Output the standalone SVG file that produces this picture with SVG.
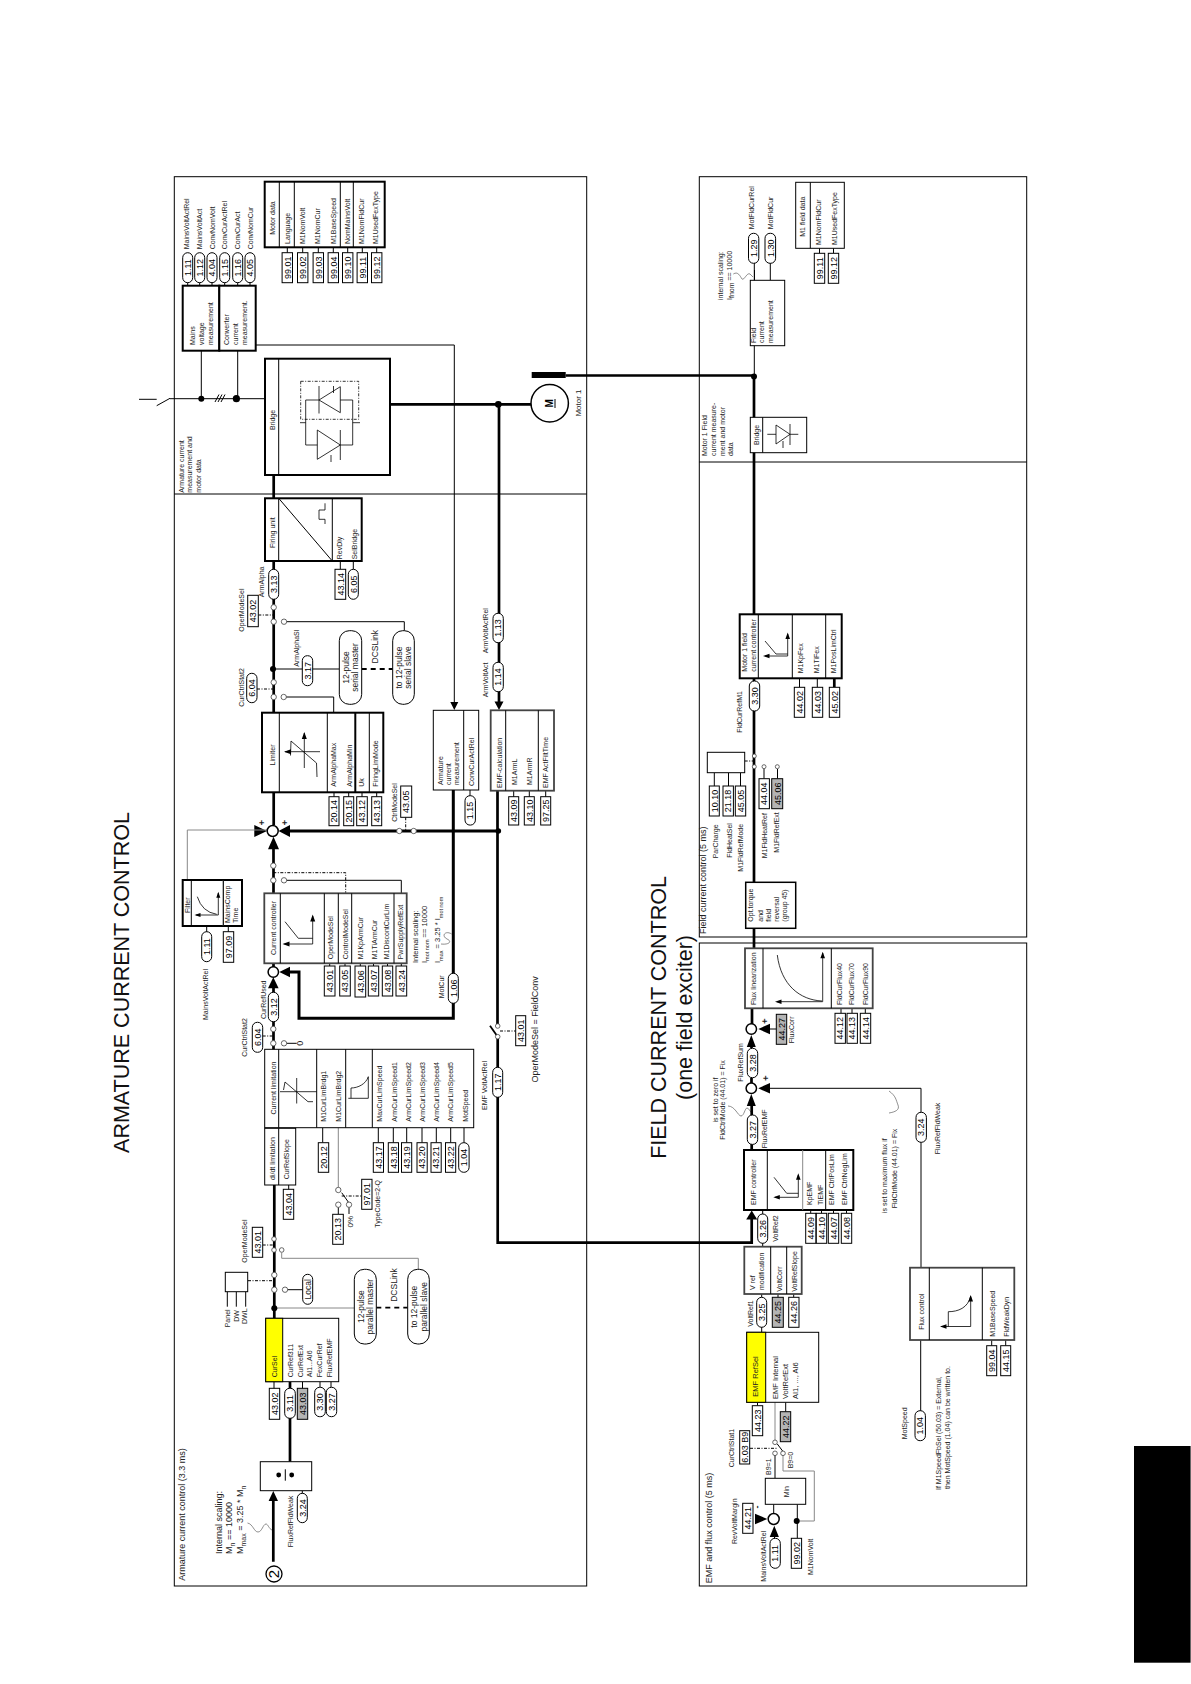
<svg xmlns="http://www.w3.org/2000/svg" width="1191" height="1684" viewBox="0 0 1191 1684">
<style>
text{font-family:"Liberation Sans",Arial,sans-serif;fill:#222}
.v{font-size:9px;text-anchor:middle;fill:#000}
.l{font-size:7px}
.m{font-size:7px;text-anchor:middle}
.s{font-size:9px}
.sm{font-size:8.5px;text-anchor:middle}
.T{font-size:21.5px;text-anchor:middle;fill:#111}
.b{fill:#fff;stroke:#000;stroke-width:1}
.bg{fill:#b4b4b4;stroke:#000;stroke-width:1}
.n{fill:#fff;stroke:#000;stroke-width:1}
.k{fill:#fff;stroke:#000;stroke-width:2}
.gk{fill:#fff;stroke:#444;stroke-width:1.8}
.y{fill:#ff0;stroke:#000;stroke-width:1}
.no{fill:none;stroke:#000;stroke-width:1}
.t0{fill:none;stroke:#000;stroke-width:.8}
.t1{fill:none;stroke:#000;stroke-width:1}
.t3{fill:none;stroke:#000;stroke-width:2.7}
.g{fill:none;stroke:#888;stroke-width:1}
.dd{fill:none;stroke:#000;stroke-width:1;stroke-dasharray:3 1.5 1 1.5}
.dk{fill:none;stroke:#000;stroke-width:1.8;stroke-dasharray:5 4}
.w{fill:none;stroke:#444;stroke-width:.6}
.c{fill:#fff;stroke:#444;stroke-width:.8}
.a{fill:#000;stroke:none}
.dot{fill:#000}
.sum{fill:#fff;stroke:#000;stroke-width:1.5}
</style>
<rect width="1191" height="1684" fill="#fff"/>
<g id="frames">
<rect class="no" x="174.3" y="176.7" width="412.4" height="1409.3"/>
<path class="t1" d="M174.3 494H586.7"/>
<rect class="no" x="699.3" y="176.7" width="327.4" height="760.3"/>
<path class="t1" d="M699.3 462H1026.7"/>
<rect class="no" x="699.3" y="943" width="327.4" height="643"/>
<rect x="1134" y="1446" width="56" height="216.7" fill="#000"/>
<rect x="1190" y="1446" width="1" height="216.7" fill="#666"/>
</g>
<g id="titles">
<text class="T" transform="matrix(0 -1 1 0 129.3 982.5)">ARMATURE CURRENT CONTROL</text>
<text class="T" transform="matrix(0 -1 1 0 665.7 1017.5)">FIELD CURRENT CONTROL</text>
<text class="T" transform="matrix(0 -1 1 0 692.3 1017.5)">(one field exciter)</text>
</g>
<g id="connectors">
<path class="t1" d="M139 399.3H156.7M156.7 405.7L170 398.3M170 398.7H264.7M215 402L219 394.5M218 402L222 394.5M221 402L225 394.5M201.3 350.7V398.7M237.7 350.7V398.7"/>
<path class="t1" d="M187.7 282V286M199.7 282V286M212 282V286M224.7 282V286M237.7 282V286M250 282V286"/>
<path class="t1" d="M287.3 247V253M302.7 247V253M318.3 247V253M333.3 247V253M347.7 247V253M362.3 247V253M376.7 247V253"/>
<path class="t1" d="M255.7 345H454.3V702"/>
<path class="t3" d="M390 404.3H531.7M499 404.3V702M565.7 375.5H754M273.7 475V825M273.5 849V893M273.5 963V967M273.5 988V1050M274.3 1185V1318"/>
<path class="a" d="M531.7 372h34v6h-34z"/>
<path class="a" d="M454.3 710l-4-8h8zM499 710l-4.5-8.500h9zM254.300 825l12.700 6-12.700 6zM278.500 831l11.500-6v12zM273.500 836.700l-5.500 12.600h11zM273.300 977.300l-5.300 11h10.600zM279.300 972l10.700-5.300v10.600zM273.300 1491l-4.700 10h9.400z"/>
<path class="t1" d="M340.300 561V569.300M353.300 561V569.300M284 621.700H404.300V630.700M273 669H339.300M283.700 697H333.700V712.700M334 792.300V797M348.700 792.300V797M362 792.300V797M376.700 792.300V797"/>
<path class="dd" d="M258.300 615H273.700M257 689H273.700M405.700 817.300V831M273.300 872.700H345.700V892.700M262.700 1036H273.300M262.700 1245H274M248 1280.700H274.300M341.700 1196H361.700M500 1031H515.700M744.700 761H754.300M750 1448.300H777"/>
<path class="dk" d="M361.700 669H392.700M376.300 1307.700H407.700"/>
<path class="t3" style="stroke-width:3" d="M498 831H290M453.300 790V1018.300H299V972H290"/>
<path class="t3" d="M497.500 790.700V1026M497.700 1036V1242.700H751.700V1218"/>
<path class="a" d="M751.700 1210.500l-5.500 9h11z"/>
<path class="g" d="M267 830H187.300V880"/>
<path class="t1" d="M206.700 926V932M228.300 926V932M284 880.300H401.300V893M470 790V796M513.700 790.700V797M529.300 790.700V797M545.700 790.700V797"/>
<path class="t1" d="M329.700 963.300V966M345 963.300V966M360.300 963.300V966M373.500 963.300V966M387.500 963.300V966M401.300 963.300V966"/>
<path class="t1" d="M284 1043.300H296.700M322.700 1127.700V1142.700M378.300 1127.700V1142.700M393.300 1127.700V1142.700M406.700 1127.700V1142.700M422 1127.700V1142.700M436.300 1127.700V1142.700M450.700 1127.700V1142.700M464 1127.700V1143M288.700 1185V1190"/>
<path class="g" d="M338.300 1127.700V1190"/>
<path class="t1" d="M341.700 1192.700L349 1203M338.300 1204.700V1214.300M349 1206V1214"/>
<path class="g" d="M281.700 1252.700V1258.300H418.300V1269.300M274.300 1308H354.300"/>
<path class="t1" d="M285 1289.700H302.700M227.300 1291.700V1306.700M236.300 1291.700V1306.700M245.700 1291.700V1306.700M274 1381.700V1389M302.500 1381.700V1389M320 1381.700V1388M331 1381.700V1388"/>
<path class="t3" d="M290 1381.700V1461.700M273.300 1501V1561.700"/>
<path class="t1" d="M302.300 1490.700V1494"/>
<path class="w" d="M451.700 934C445 930 441 936 447 939C452 941 450 945 441 944"/>
<path class="w" d="M247.500 1523C253 1524 254 1532 258 1532C262 1532 263 1524 266 1524C268 1524 269 1529 272 1530"/>
<path class="w" d="M733.300 274C738 271 740 276 742 279C744 281 747 272 750 274L753 277"/>
<path class="w" d="M728 1106C735 1106 738 1116 741 1116C744 1116 745 1108 747 1108C749 1108 750 1112 752 1113"/>
<path class="w" d="M889 1113C895 1112 900 1110 898 1105C896 1100 896 1096 889 1091"/>
<path class="t1" d="M754.300 263V376M770.300 263V280.300M819.500 248V253.300M833.500 248V253.300"/>
<path class="t3" d="M754 376V614.300M754 678V882.300M754 928V948.300M752 1008V1024M751.500 1045V1048.300M751.500 1078V1083M751.700 1104V1150"/>
<path class="t1" d="M799.500 678.300V687.300M817.300 678.300V687.300M714.300 772.700V786M728.500 772.700V786M740.500 772.700V786M764 769V778.700M777.500 769V778.700"/>
<path class="t3" d="M834.300 678.300V687.300"/>
<path class="t1" d="M841 1008.300V1013.300M852 1008.300V1013.300M865.300 1008.300V1013.300M770 1029H776.300M770 1088.300H921V1267.700"/>
<path class="a" d="M751.300 1035l-4.500 12h9zM758.300 1029l11.700-5.300v10.600zM751.300 1094l-4.500 12h9zM758.300 1088.300l11.700-5.300v10.600z"/>
<path class="t1" d="M762.700 1210V1214M762.700 1243V1246.700M810.700 1210V1213.300M821.500 1210V1213.300M833.500 1210V1213.300M846.500 1210V1213.300M761.700 1294V1297.300M761.700 1327V1332.300M778 1294V1297.300M793.700 1294V1297.300M757.500 1402.300V1405.700M785.700 1402.300V1411.700"/>
<path class="g" d="M775 1402.300V1442.300"/>
<path class="t1" d="M777.300 1444L783 1451.500M775 1455V1478.300M773.700 1504.300V1513M797.300 1504.300V1538.300"/>
<path class="g" d="M783 1455V1471H814.300V1521H797"/>
<path class="a" d="M767.300 1519l-12.300-5.300v10.600zM774.300 1525.700l-4.600 11.300h9.200z"/>
<path class="t1" d="M774.500 1537V1539"/>
<path class="t1" d="M920.700 1340V1411M991.700 1340V1345.700M1005.700 1340V1345.700"/>
<path class="t1" d="M754.500 270V281"/>
</g>
<g id="dots">
<circle class="dot" cx="201.300" cy="398.700" r="3"/><circle class="dot" cx="236.400" cy="398.700" r="3.600"/><circle class="dot" cx="498.300" cy="404.300" r="3.400"/><circle class="dot" cx="754" cy="376.500" r="3"/><circle class="dot" cx="273" cy="669" r="3"/><circle class="dot" cx="498.300" cy="831" r="2.800"/><circle class="dot" cx="274.300" cy="1308.300" r="3"/><circle class="dot" cx="796.700" cy="1521" r="3"/>
</g>
<g id="switches">
<circle class="c" cx="273.700" cy="607.300" r="2.700"/><circle class="c" cx="273.700" cy="621.700" r="2.700"/><circle class="c" cx="284" cy="621.700" r="2.700"/>
<circle class="c" cx="273.700" cy="682.300" r="2.700"/><circle class="c" cx="273.700" cy="697" r="2.700"/><circle class="c" cx="283.700" cy="697" r="2.700"/>
<circle class="c" cx="399.300" cy="831" r="2.700"/><circle class="c" cx="413.700" cy="831" r="2.700"/>
<circle class="c" cx="273.300" cy="865.700" r="2.700"/><circle class="c" cx="273.300" cy="880.300" r="2.700"/><circle class="c" cx="284" cy="880.300" r="2.700"/>
<circle class="c" cx="273.300" cy="1029" r="2.700"/><circle class="c" cx="273.300" cy="1043.300" r="2.700"/><circle class="c" cx="284" cy="1043.300" r="2.700"/>
<circle class="c" cx="338.300" cy="1190" r="2.700"/><circle class="c" cx="338.300" cy="1204.700" r="2.700"/><circle class="c" cx="349" cy="1204.700" r="2.700"/>
<circle class="c" cx="274" cy="1239" r="2.300"/><circle class="c" cx="274" cy="1250" r="2.300"/><circle class="c" cx="281.700" cy="1250" r="2.300"/>
<circle class="c" cx="274.300" cy="1275" r="2.700"/><circle class="c" cx="274.300" cy="1289.700" r="2.700"/><circle class="c" cx="285" cy="1289.700" r="2.700"/>
<path class="t1" style="stroke-width:1.800" d="M490 1025.700L497.700 1036.700"/>
<circle class="c" cx="497.700" cy="1026" r="2.300"/><circle class="c" cx="497.700" cy="1036.700" r="2.300"/>
<circle class="c" cx="754.300" cy="756" r="2"/><circle class="c" cx="754.300" cy="766.700" r="2"/><circle class="c" cx="764" cy="766.700" r="2"/><circle class="c" cx="777.300" cy="766.700" r="2"/>
<circle class="c" cx="775" cy="1442.300" r="2.300"/><circle class="c" cx="775" cy="1453.300" r="2.300"/><circle class="c" cx="783" cy="1453.300" r="2.300"/>
</g>
<g id="summing">
<circle class="sum" cx="272.700" cy="831" r="5.500"/><circle class="sum" cx="273.300" cy="972" r="5.200"/><circle class="sum" cx="751.300" cy="1029" r="5.200"/><circle class="sum" cx="751.300" cy="1088.300" r="5.200"/><circle class="sum" cx="773.700" cy="1519" r="5.500"/>
<text class="s" style="font-weight:bold" text-anchor="middle" transform="matrix(0 -1 1 0 264.500 822.700)">+</text>
<text class="s" style="font-weight:bold" text-anchor="middle" transform="matrix(0 -1 1 0 287.500 822.700)">+</text>
<text class="s" style="font-weight:bold" text-anchor="middle" transform="matrix(0 -1 1 0 768 1021)">+</text>
<text class="s" style="font-weight:bold" text-anchor="middle" transform="matrix(0 -1 1 0 769 1078)">+</text>
<text class="s" style="font-weight:bold" text-anchor="middle" transform="matrix(0 -1 1 0 760 1507)">-</text>
</g>
<g id="mains-meas"><rect class="k" x="182.700" y="285.700" width="36.600" height="65"/>
<text class="l" transform="matrix(0 -1 1 0 195 345)">Mains</text><text class="l" transform="matrix(0 -1 1 0 204 345)">voltage</text><text class="l" transform="matrix(0 -1 1 0 212.700 345)">measurement</text></g>
<g id="conv-meas"><rect class="k" x="219.300" y="285.700" width="36.400" height="65"/>
<text class="l" transform="matrix(0 -1 1 0 229 345)">Converter</text><text class="l" transform="matrix(0 -1 1 0 238 345)">current</text><text class="l" transform="matrix(0 -1 1 0 247 345)">measurement.</text></g>
<g id="top-pills">
<rect class="b" x="182.700" y="252.700" width="10" height="30" rx="5"/><text class="v" transform="matrix(0 -1 1 0 190.900 267.700)">1.11</text>
<rect class="b" x="194.700" y="252.700" width="10" height="30" rx="5"/><text class="v" transform="matrix(0 -1 1 0 202.900 267.700)">1.12</text>
<rect class="b" x="207" y="252.700" width="10" height="30" rx="5"/><text class="v" transform="matrix(0 -1 1 0 215.200 267.700)">4.04</text>
<rect class="b" x="219.700" y="252.700" width="10" height="30" rx="5"/><text class="v" transform="matrix(0 -1 1 0 227.900 267.700)">1.15</text>
<rect class="b" x="232.700" y="252.700" width="10" height="30" rx="5"/><text class="v" transform="matrix(0 -1 1 0 240.900 267.700)">1.16</text>
<rect class="b" x="245" y="252.700" width="10" height="30" rx="5"/><text class="v" transform="matrix(0 -1 1 0 253.200 267.700)">4.05</text>
<text class="l" transform="matrix(0 -1 1 0 189.300 249.300)">MainsVoltActRel</text><text class="l" transform="matrix(0 -1 1 0 202 249.300)">MainsVoltAct</text><text class="l" transform="matrix(0 -1 1 0 214.500 249.300)">ConvNomVolt</text><text class="l" transform="matrix(0 -1 1 0 227 249.300)">ConvCurActRel</text><text class="l" transform="matrix(0 -1 1 0 240 249.300)">ConvCurAct</text><text class="l" transform="matrix(0 -1 1 0 252.500 249.300)">ConvNomCur</text>
</g>
<g id="motor-data"><rect class="k" x="264.700" y="181.700" width="120" height="65.600"/>
<path class="t1" d="M279.300 181.700V247.300M294.300 181.700V247.300M340.300 181.700V247.300M353.300 181.700V247.300"/>
<text class="m" transform="matrix(0 -1 1 0 275 218)">Motor data</text>
<text class="l" transform="matrix(0 -1 1 0 290 244)">Language</text><text class="l" transform="matrix(0 -1 1 0 305 244)">M1NomVolt</text><text class="l" transform="matrix(0 -1 1 0 320 244)">M1NomCur</text><text class="l" transform="matrix(0 -1 1 0 335.700 244)">M1BaseSpeed</text><text class="l" transform="matrix(0 -1 1 0 350 244)">NomMainsVolt</text><text class="l" transform="matrix(0 -1 1 0 364 244)">M1NomFldCur</text><text class="l" transform="matrix(0 -1 1 0 378 244)">M1UsedFexType</text>
<rect class="b" x="282.100" y="252.700" width="10.400" height="30"/><text class="v" transform="matrix(0 -1 1 0 290.500 267.700)">99.01</text>
<rect class="b" x="297.500" y="252.700" width="10.400" height="30"/><text class="v" transform="matrix(0 -1 1 0 305.900 267.700)">99.02</text>
<rect class="b" x="313.100" y="252.700" width="10.400" height="30"/><text class="v" transform="matrix(0 -1 1 0 321.500 267.700)">99.03</text>
<rect class="b" x="328.100" y="252.700" width="10.400" height="30"/><text class="v" transform="matrix(0 -1 1 0 336.500 267.700)">99.04</text>
<rect class="b" x="342.500" y="252.700" width="10.400" height="30"/><text class="v" transform="matrix(0 -1 1 0 350.900 267.700)">99.10</text>
<rect class="b" x="357.100" y="252.700" width="10.400" height="30"/><text class="v" transform="matrix(0 -1 1 0 365.500 267.700)">99.11</text>
<rect class="b" x="371.500" y="252.700" width="10.400" height="30"/><text class="v" transform="matrix(0 -1 1 0 379.900 267.700)">99.12</text>
</g>
<g id="bridge"><rect class="k" x="265" y="358.700" width="125" height="116.300"/>
<path class="t1" d="M278.700 358.700V475"/>
<text class="m" transform="matrix(0 -1 1 0 275 420)">Bridge</text>
<rect x="300.700" y="381.300" width="58" height="38" fill="none" stroke="#000" stroke-width=".8" stroke-dasharray="3 1.500 1 1.500"/>
<path class="t0" d="M340.300 386.700L319 400L340.300 412.700ZM319 386V413.500M305.700 400H319M340.300 400H352.700M305.700 400V445M352.700 400V445M317.300 430L340.300 445L317.300 459.300ZM340.300 430V460M305.700 445H317.300M340.300 445H352.700M300 422.700H305.700M352.700 422.700H360M333.500 386V393M331 455V462"/>
</g>
<g id="motor"><circle cx="549.700" cy="403.300" r="18.700" fill="#fff" stroke="#000" stroke-width="1.500"/>
<text transform="matrix(0 -1 1 0 552.500 403.300)" style="font-size:10px;font-weight:bold;text-anchor:middle;fill:#000">M</text><path class="t1" d="M555 399V408"/>
<text class="m" transform="matrix(0 -1 1 0 580.700 403)" style="font-size:8px">Motor 1</text></g>
<text class="l" transform="matrix(0 -1 1 0 184.300 492.700)">Armature current</text><text class="l" transform="matrix(0 -1 1 0 192.300 492.700)">measurement and</text><text class="l" transform="matrix(0 -1 1 0 200.700 492.700)">motor data</text>
<g id="firing"><rect class="k" x="265" y="498.300" width="96.700" height="62.700"/>
<path class="t1" d="M278.700 498.300V561M332.300 498.300V561M278.700 498.300L332.300 561"/><path class="t0" d="M325 503.300V510H319V519.300H325V524"/>
<text class="m" transform="matrix(0 -1 1 0 275 532.700)">Firing unit</text><text class="l" transform="matrix(0 -1 1 0 341.700 559.300)">RevDly</text><text class="l" transform="matrix(0 -1 1 0 356.700 559.300)">SelBridge</text></g>
<g id="p4314"><rect class="b" x="335" y="569.300" width="10.700" height="30"/><text class="v" transform="matrix(0 -1 1 0 343.600 584.300)">43.14</text></g>
<g id="p605"><rect class="b" x="348.300" y="569.300" width="10" height="30" rx="5"/><text class="v" transform="matrix(0 -1 1 0 356.500 584.300)">6.05</text></g>
<g id="p313"><rect class="b" x="268.700" y="569.300" width="10" height="30" rx="5"/><text class="v" transform="matrix(0 -1 1 0 276.900 584.300)">3.13</text></g>
<text class="l" transform="matrix(0 -1 1 0 264 597.300)">ArmAlpha</text>
<g id="p4302"><rect class="b" x="247.700" y="595.300" width="10.600" height="31.400"/><text class="v" transform="matrix(0 -1 1 0 256.200 611)">43.02</text></g>
<text class="l" transform="matrix(0 -1 1 0 244 631.700)">OperModeSel</text>
<g id="p317"><rect class="b" x="302.300" y="655.700" width="10.400" height="30" rx="5"/><text class="v" transform="matrix(0 -1 1 0 310.700 670.700)">3.17</text></g>
<text class="l" transform="matrix(0 -1 1 0 298.700 666.700)">ArmAlphaSl</text>
<g id="serial-master"><rect class="b" x="339.300" y="630.700" width="22.400" height="73.600" rx="10"/><text class="sm" transform="matrix(0 -1 1 0 348.500 667.500)">12-pulse</text><text class="sm" transform="matrix(0 -1 1 0 358 667.500)">serial master</text></g>
<g id="serial-slave"><rect class="b" x="392.700" y="630.700" width="21.600" height="73.600" rx="10"/><text class="sm" transform="matrix(0 -1 1 0 401.500 667.500)">to 12-pulse</text><text class="sm" transform="matrix(0 -1 1 0 411 667.500)">serial slave</text></g>
<text class="sm" transform="matrix(0 -1 1 0 378.300 646.700)">DCSLink</text>
<g id="p604a"><rect class="b" x="246.700" y="673.300" width="10.300" height="29.400" rx="5"/><text class="v" transform="matrix(0 -1 1 0 255 688)">6.04</text></g>
<text class="l" transform="matrix(0 -1 1 0 244 706.700)">CurCtrlStat2</text>
<g id="limiter"><rect class="k" x="262" y="712.700" width="121.300" height="79.600"/>
<path class="t1" d="M279.300 712.700V792.300M327.300 712.700V792.300M369.300 712.700V792.300"/><path class="t1" style="stroke-width:2" d="M355.300 712.700V792.300"/>
<path class="t0" d="M304.300 733V768M285 751.700H320M290.500 755.500L291 741L316.500 763L317 777"/><path class="a" d="M304.300 732l-2.500 7h5zM284 751.700l7-2.500v5z"/>
<text class="m" transform="matrix(0 -1 1 0 275 755)">Limiter</text>
<text class="l" transform="matrix(0 -1 1 0 336 786.700)">ArmAlphaMax</text><text class="l" transform="matrix(0 -1 1 0 351.700 786.700)">ArmAlphaMin</text><text class="l" transform="matrix(0 -1 1 0 364 786.700)">Uk</text><text class="l" transform="matrix(0 -1 1 0 378.300 786.700)">FiringLimMode</text></g>
<g id="p2014"><rect class="b" x="329" y="796.700" width="10" height="29"/><text class="v" transform="matrix(0 -1 1 0 337.200 811.200)">20.14</text></g>
<g id="p2015"><rect class="b" x="343.700" y="796.700" width="10" height="29"/><text class="v" transform="matrix(0 -1 1 0 351.900 811.200)">20.15</text></g>
<g id="p4312"><rect class="b" x="356.700" y="796.700" width="10.600" height="29"/><text class="v" transform="matrix(0 -1 1 0 365.200 811.200)">43.12</text></g>
<g id="p4313"><rect class="b" x="371.700" y="796.700" width="10" height="29"/><text class="v" transform="matrix(0 -1 1 0 379.900 811.200)">43.13</text></g>
<g id="p4305a"><rect class="b" x="400.700" y="786" width="11" height="31.300"/><text class="v" transform="matrix(0 -1 1 0 409.400 801.700)">43.05</text></g>
<text class="l" transform="matrix(0 -1 1 0 396.700 821.700)">CtrlModeSel</text>
<g id="arm-meas"><rect class="n" x="433.300" y="710.300" width="45.400" height="79.700"/><path class="t1" d="M463.700 710.300V790"/>
<text class="l" transform="matrix(0 -1 1 0 442.700 785)">Armature</text><text class="l" transform="matrix(0 -1 1 0 451 785)">current</text><text class="l" transform="matrix(0 -1 1 0 459.300 785)">measurement</text><text class="l" transform="matrix(0 -1 1 0 474 786)">ConvCurActRel</text></g>
<g id="p115"><rect class="b" x="465" y="795.700" width="10.400" height="29.400" rx="5"/><text class="v" transform="matrix(0 -1 1 0 473.400 810.400)">1.15</text></g>
<g id="emf-calc"><rect class="gk" x="490.700" y="710.300" width="63.300" height="80.400"/><path class="t1" d="M505.700 710.300V790.700M538.300 710.300V790.700"/>
<text class="l" transform="matrix(0 -1 1 0 501.700 788)">EMF-calculation</text><text class="l" transform="matrix(0 -1 1 0 516.700 785)">M1ArmL</text><text class="l" transform="matrix(0 -1 1 0 531.700 785)">M1ArmR</text><text class="l" transform="matrix(0 -1 1 0 548.300 788)">EMF ActFiltTime</text></g>
<g id="p4309"><rect class="b" x="508.700" y="796.700" width="10" height="28.300"/><text class="v" transform="matrix(0 -1 1 0 516.900 810.800)">43.09</text></g>
<g id="p4310"><rect class="b" x="524.300" y="796.700" width="10" height="28.300"/><text class="v" transform="matrix(0 -1 1 0 532.500 810.800)">43.10</text></g>
<g id="p9725"><rect class="b" x="540.700" y="796.700" width="10" height="28.300"/><text class="v" transform="matrix(0 -1 1 0 548.900 810.800)">97.25</text></g>
<g id="p113"><rect class="b" x="493" y="613.300" width="10.300" height="29.400" rx="5"/><text class="v" transform="matrix(0 -1 1 0 501.300 628)">1.13</text></g>
<g id="p114"><rect class="b" x="493" y="662.300" width="10.300" height="29.400" rx="5"/><text class="v" transform="matrix(0 -1 1 0 501.300 677)">1.14</text></g>
<text class="l" transform="matrix(0 -1 1 0 488.300 653.300)">ArmVoltActRel</text><text class="l" transform="matrix(0 -1 1 0 488.300 697.300)">ArmVoltAct</text>
<g id="filter"><rect class="k" x="182.700" y="880" width="59.300" height="46"/><path class="t1" d="M191.300 880V926"/><path class="g" d="M223.300 880V926"/><path class="t1" d="M223.300 880V926"/>
<path class="t0" d="M218.300 893V915H196M197.300 896.700Q202 912 216.700 914.300"/><path class="a" d="M218.300 891.700l-2 6h4zM194.500 915l6-2v4z"/>
<text class="l" transform="matrix(0 -1 1 0 190 913)">Filter</text><text class="l" transform="matrix(0 -1 1 0 230 923)">MainsComp</text><text class="l" transform="matrix(0 -1 1 0 238 923)">Time</text></g>
<g id="p111a"><rect class="b" x="201.700" y="931.700" width="10" height="30" rx="5"/><text class="v" transform="matrix(0 -1 1 0 209.900 946.700)">1.11</text></g>
<g id="p9709"><rect class="b" x="223.300" y="931.700" width="10.400" height="30.600"/><text class="v" transform="matrix(0 -1 1 0 231.700 947)">97.09</text></g>
<text class="l" transform="matrix(0 -1 1 0 208.300 1020)">MainsVoltActRel</text>
<g id="cur-ctrl"><rect class="gk" x="264.300" y="893.300" width="142.400" height="70"/><path class="t1" d="M280.300 893.300V963.300M324.300 893.300V963.300M338.300 893.300V963.300M351.700 893.300V963.300M394 893.300V963.300"/>
<path class="t0" d="M312.700 916V944H284.500M285 921.700L298.300 938.300H312.700"/><path class="a" d="M312.700 914.500l-2.500 7h5zM282.500 944l7-2.500v5z"/>
<text class="m" transform="matrix(0 -1 1 0 276 928)">Current controller</text>
<text class="l" transform="matrix(0 -1 1 0 333.300 959.300)">OperModeSel</text><text class="l" transform="matrix(0 -1 1 0 347.700 959.300)">ControlModeSel</text><text class="l" transform="matrix(0 -1 1 0 362.700 959.300)">M1KpArmCur</text><text class="l" transform="matrix(0 -1 1 0 377 959.300)">M1TiArmCur</text><text class="l" transform="matrix(0 -1 1 0 389.300 959.300)">M1DiscontCurLim</text><text class="l" transform="matrix(0 -1 1 0 402.700 959.300)">PwrSupplyRefExt</text></g>
<g id="p4301a"><rect class="b" x="324.300" y="966" width="10.700" height="30"/><text class="v" transform="matrix(0 -1 1 0 332.900 981)">43.01</text></g>
<g id="p4305b"><rect class="b" x="339.700" y="966" width="10.600" height="30"/><text class="v" transform="matrix(0 -1 1 0 348.200 981)">43.05</text></g>
<g id="p4306"><rect class="b" x="355" y="966" width="10.700" height="31"/><text class="v" transform="matrix(0 -1 1 0 363.600 981.500)">43.06</text></g>
<g id="p4307"><rect class="b" x="368.300" y="966" width="10.400" height="30"/><text class="v" transform="matrix(0 -1 1 0 376.700 981)">43.07</text></g>
<g id="p4308"><rect class="b" x="382.300" y="966" width="10.400" height="30"/><text class="v" transform="matrix(0 -1 1 0 390.700 981)">43.08</text></g>
<g id="p4324"><rect class="b" x="396" y="966" width="10.700" height="30"/><text class="v" transform="matrix(0 -1 1 0 404.500 981)">43.24</text></g>
<text class="l" style="font-size:7.500px" transform="matrix(0 -1 1 0 418.300 963)">Internal scaling:</text>
<text class="l" style="font-size:7.500px" transform="matrix(0 -1 1 0 426.700 963)">I<tspan dy="2.500" style="font-size:5.500px">mot nom</tspan><tspan dy="-2.500"> == 10000</tspan></text>
<text class="l" style="font-size:7.500px" transform="matrix(0 -1 1 0 440 963)">I<tspan dy="2.500" style="font-size:5.500px">max</tspan><tspan dy="-2.500"> = 3.25 * I</tspan><tspan dy="2.500" style="font-size:5.500px">mot nom</tspan></text>
<g id="p106"><rect class="b" x="448.300" y="973.300" width="10" height="30" rx="5"/><text class="v" transform="matrix(0 -1 1 0 456.500 988.300)">1.06</text></g>
<text class="l" transform="matrix(0 -1 1 0 444 998.300)">MotCur</text>
<g id="p312"><rect class="b" x="268.300" y="992.300" width="10.300" height="29.400" rx="5"/><text class="v" transform="matrix(0 -1 1 0 276.600 1007)">3.12</text></g>
<text class="l" transform="matrix(0 -1 1 0 265.700 1019)">CurRefUsed</text>
<text class="s" text-anchor="middle" transform="matrix(0 -1 1 0 303 1043.300)">0</text>
<g id="p604b"><rect class="b" x="252.300" y="1022.300" width="10.400" height="30" rx="5"/><text class="v" transform="matrix(0 -1 1 0 260.700 1037.300)">6.04</text></g>
<text class="l" transform="matrix(0 -1 1 0 246.700 1056.700)">CurCtrlStat2</text>
<g id="cur-lim"><rect class="n" x="264.700" y="1049.300" width="209" height="78.400"/><path class="t1" d="M278.700 1049.300V1127.700M316.700 1049.300V1127.700M345.700 1049.300V1127.700M372.300 1049.300V1127.700"/>
<path class="t0" d="M280 1091.700H316.700M296.700 1078V1103.500M283.500 1090L285 1082L308 1101.700L313 1101.700"/>
<path class="t0" d="M348.300 1098.300H368.300V1076.700M351 1098.300V1088C358 1088 366 1084 368.300 1076.700"/>
<text class="m" transform="matrix(0 -1 1 0 276 1088)">Current limitation</text>
<text class="l" transform="matrix(0 -1 1 0 326 1121.700)">M1CurLimBrdg1</text><text class="l" transform="matrix(0 -1 1 0 341 1121.700)">M1CurLimBrdg2</text><text class="l" transform="matrix(0 -1 1 0 381.700 1121.700)">MaxCurLimSpeed</text><text class="l" transform="matrix(0 -1 1 0 396.700 1121.700)">ArmCurLimSpeed1</text><text class="l" transform="matrix(0 -1 1 0 410.700 1121.700)">ArmCurLimSpeed2</text><text class="l" transform="matrix(0 -1 1 0 425 1121.700)">ArmCurLimSpeed3</text><text class="l" transform="matrix(0 -1 1 0 439 1121.700)">ArmCurLimSpeed4</text><text class="l" transform="matrix(0 -1 1 0 453.300 1121.700)">ArmCurLimSpeed5</text><text class="l" transform="matrix(0 -1 1 0 467.700 1121.700)">MotSpeed</text></g>
<g id="didt"><rect class="n" x="264.700" y="1128.300" width="31" height="56.700"/><path class="t1" d="M278.700 1128.300V1185"/>
<text class="l" transform="matrix(0 -1 1 0 275 1180)">di/dt limitation</text><text class="l" transform="matrix(0 -1 1 0 289.300 1179.300)">CurRefSlope</text></g>
<g id="p4304"><rect class="b" x="283.300" y="1189.300" width="10.400" height="30"/><text class="v" transform="matrix(0 -1 1 0 291.700 1204.300)">43.04</text></g>
<g id="p2012"><rect class="b" x="318.300" y="1142.700" width="10.400" height="29.600"/><text class="v" transform="matrix(0 -1 1 0 326.700 1157.500)">20.12</text></g>
<g id="p4317"><rect class="b" x="373.300" y="1142.700" width="10.200" height="29.600"/><text class="v" transform="matrix(0 -1 1 0 381.600 1157.500)">43.17</text></g>
<g id="p4318"><rect class="b" x="388.300" y="1142.700" width="10.200" height="29.600"/><text class="v" transform="matrix(0 -1 1 0 396.600 1157.500)">43.18</text></g>
<g id="p4319"><rect class="b" x="401.500" y="1142.700" width="10.200" height="29.600"/><text class="v" transform="matrix(0 -1 1 0 409.800 1157.500)">43.19</text></g>
<g id="p4320"><rect class="b" x="417" y="1142.700" width="10.200" height="29.600"/><text class="v" transform="matrix(0 -1 1 0 425.300 1157.500)">43.20</text></g>
<g id="p4321"><rect class="b" x="431" y="1142.700" width="10.200" height="29.600"/><text class="v" transform="matrix(0 -1 1 0 439.300 1157.500)">43.21</text></g>
<g id="p4322"><rect class="b" x="445.500" y="1142.700" width="10.200" height="29.600"/><text class="v" transform="matrix(0 -1 1 0 453.800 1157.500)">43.22</text></g>
<g id="p104a"><rect class="b" x="458.700" y="1142.700" width="10.400" height="29.600" rx="5"/><text class="v" transform="matrix(0 -1 1 0 467 1157.500)">1.04</text></g>
<g id="p9701"><rect class="b" x="361.700" y="1179.300" width="10.300" height="30"/><text class="v" transform="matrix(0 -1 1 0 370 1194.300)">97.01</text></g>
<text class="l" transform="matrix(0 -1 1 0 380 1227.700)">TypeCode=2-Q</text>
<g id="p2013"><rect class="b" x="332.700" y="1214.300" width="10.600" height="30"/><text class="v" transform="matrix(0 -1 1 0 341.200 1229.300)">20.13</text></g>
<text class="m" style="font-size:8px" transform="matrix(0 -1 1 0 352.700 1221.700)">0%</text>
<g id="p4301b"><rect class="b" x="252.300" y="1227.300" width="10.400" height="30"/><text class="v" transform="matrix(0 -1 1 0 260.700 1242.300)">43.01</text></g>
<text class="l" transform="matrix(0 -1 1 0 246.700 1262.700)">OperModeSel</text>
<g id="sel-box"><rect class="n" x="225.300" y="1272.300" width="22.400" height="19.400"/></g>
<text class="l" transform="matrix(0 -1 1 0 230 1327.300)">Panel</text><text class="l" transform="matrix(0 -1 1 0 239 1321.700)">DW</text><text class="l" transform="matrix(0 -1 1 0 247.300 1324)">DWL</text>
<g id="local"><rect class="b" x="302.700" y="1274.300" width="10" height="30" rx="5"/><text class="m" style="font-size:8.500px" transform="matrix(0 -1 1 0 310.900 1289.300)">Local</text></g>
<g id="par-master"><rect class="b" x="354.300" y="1269.300" width="22" height="74.700" rx="10"/><text class="sm" transform="matrix(0 -1 1 0 363.500 1306.700)">12-pulse</text><text class="sm" transform="matrix(0 -1 1 0 373 1306.700)">parallel master</text></g>
<g id="par-slave"><rect class="b" x="407.700" y="1269.300" width="21.600" height="74.700" rx="10"/><text class="sm" transform="matrix(0 -1 1 0 416.500 1306.700)">to 12-pulse</text><text class="sm" transform="matrix(0 -1 1 0 426.500 1306.700)">parallel slave</text></g>
<text class="sm" transform="matrix(0 -1 1 0 396.700 1285)">DCSLink</text>
<g id="cursel"><rect class="n" x="265.700" y="1318.300" width="73" height="63.400"/><rect class="y" x="265.700" y="1318.300" width="17" height="63.400"/>
<text class="l" transform="matrix(0 -1 1 0 276.700 1377.300)">CurSel</text><text class="l" transform="matrix(0 -1 1 0 292.700 1377.300)">CurRef311</text><text class="l" transform="matrix(0 -1 1 0 302.700 1377.300)">CurRefExt</text><text class="l" transform="matrix(0 -1 1 0 311.700 1377.300)">AI1...AI6</text><text class="l" transform="matrix(0 -1 1 0 321.700 1377.300)">FexCurRef</text><text class="l" transform="matrix(0 -1 1 0 331.700 1377.300)">FluxRefEMF</text></g>
<g id="p4302b"><rect class="b" x="269.300" y="1388.300" width="10.400" height="31"/><text class="v" transform="matrix(0 -1 1 0 277.700 1403.800)">43.02</text></g>
<g id="p311"><rect class="b" x="284.700" y="1388.300" width="10.600" height="30" rx="5"/><text class="v" transform="matrix(0 -1 1 0 293.200 1403.300)">3.11</text></g>
<g id="p4303"><rect class="bg" x="297.300" y="1388.300" width="10.400" height="31"/><text class="v" transform="matrix(0 -1 1 0 305.700 1403.800)">43.03</text></g>
<g id="p330a"><rect class="b" x="314.700" y="1387.300" width="10.600" height="29.400" rx="5"/><text class="v" transform="matrix(0 -1 1 0 323.200 1402)">3.30</text></g>
<g id="p327a"><rect class="b" x="326.300" y="1387.300" width="10.400" height="29.400" rx="5"/><text class="v" transform="matrix(0 -1 1 0 334.700 1402)">3.27</text></g>
<g id="divider"><rect class="n" x="260.300" y="1461.700" width="51.400" height="29"/><circle class="dot" cx="278.700" cy="1475" r="2.400"/><circle class="dot" cx="291.700" cy="1475" r="2.400"/><path class="t1" d="M285.300 1469.300V1480.700"/></g>
<g id="p324a"><rect class="b" x="297.300" y="1493.300" width="10" height="29.400" rx="5"/><text class="v" transform="matrix(0 -1 1 0 305.500 1508)">3.24</text></g>
<text class="l" transform="matrix(0 -1 1 0 293.300 1547.300)">FluxRefFldWeak</text>
<g id="ref2"><circle cx="274" cy="1574" r="8" fill="#fff" stroke="#000" stroke-width="1.300"/><text transform="matrix(0 -1 1 0 279 1574)" style="font-size:15px;text-anchor:middle;fill:#000">2</text></g>
<text class="s" transform="matrix(0 -1 1 0 185 1580.700)">Armature current control (3.3 ms)</text>
<text class="s" transform="matrix(0 -1 1 0 221.700 1554)">Internal scaling:</text>
<text class="s" transform="matrix(0 -1 1 0 231.700 1554)">M<tspan dy="3" style="font-size:7px">n</tspan><tspan dy="-3"> == 10000</tspan></text>
<text class="s" transform="matrix(0 -1 1 0 243.300 1554)">M<tspan dy="3" style="font-size:7px">max</tspan><tspan dy="-3"> = 3.25 * M</tspan><tspan dy="3" style="font-size:7px">n</tspan></text>
<g id="p4301c"><rect class="b" x="515.700" y="1015.700" width="10" height="30"/><text class="v" transform="matrix(0 -1 1 0 523.900 1030.700)">43.01</text></g>
<text class="s" text-anchor="middle" transform="matrix(0 -1 1 0 537.700 1029.300)">OperModeSel = FieldConv</text>
<g id="p117"><rect class="b" x="492.700" y="1067.300" width="10" height="30" rx="5"/><text class="v" transform="matrix(0 -1 1 0 500.900 1082.300)">1.17</text></g>
<text class="l" transform="matrix(0 -1 1 0 486.700 1110)">EMF VoltActRel</text>

<g id="p129"><rect class="b" x="748.500" y="233.300" width="10.300" height="30" rx="5"/><text class="v" transform="matrix(0 -1 1 0 756.800 248.300)">1.29</text></g>
<g id="p130"><rect class="b" x="765" y="233.300" width="10.600" height="30" rx="5"/><text class="v" transform="matrix(0 -1 1 0 773.500 248.300)">1.30</text></g>
<text class="l" transform="matrix(0 -1 1 0 754 229.300)">MotFldCurRel</text><text class="l" transform="matrix(0 -1 1 0 773.300 229.300)">MotFldCur</text>
<g id="fld-meas"><rect class="n" x="750.300" y="280.300" width="34.400" height="65.400"/>
<text class="l" transform="matrix(0 -1 1 0 755.700 343)">Field</text><text class="l" transform="matrix(0 -1 1 0 764 343)">current</text><text class="l" transform="matrix(0 -1 1 0 773 343)">measurement</text></g>
<text class="l" transform="matrix(0 -1 1 0 723.300 300)">internal scaling:</text>
<text class="l" transform="matrix(0 -1 1 0 731.700 300)">I<tspan dy="2.500" style="font-size:7px">fnom</tspan><tspan dy="-2.500"> == 10000</tspan></text>
<g id="m1-field"><rect class="n" x="795.700" y="182.300" width="48.600" height="66"/><path class="t1" d="M810.300 182.300V248.300"/>
<text class="m" transform="matrix(0 -1 1 0 805 216.700)">M1 field data</text><text class="l" transform="matrix(0 -1 1 0 821 245)">M1NomFldCur</text><text class="l" transform="matrix(0 -1 1 0 836.700 245)">M1UsedFexType</text></g>
<g id="p9911"><rect class="b" x="814.300" y="253.300" width="10.400" height="30"/><text class="v" transform="matrix(0 -1 1 0 822.700 268.300)">99.11</text></g>
<g id="p9912"><rect class="b" x="828.300" y="253.300" width="10.400" height="30"/><text class="v" transform="matrix(0 -1 1 0 836.700 268.300)">99.12</text></g>
<text class="l" transform="matrix(0 -1 1 0 707.300 456)">Motor 1 Field</text><text class="l" transform="matrix(0 -1 1 0 716 456)">current measure-</text><text class="l" transform="matrix(0 -1 1 0 724.700 456)">ment and motor</text><text class="l" transform="matrix(0 -1 1 0 733.300 456)">data</text>
<g id="fld-bridge"><rect class="n" x="750.300" y="417.300" width="56.400" height="35.400"/><path class="t1" d="M762.700 417.300V452.700"/>
<path class="t0" d="M776 425V444L790 434.300ZM790 424V445M767.300 434.300H776M790 434.300H798.300M783 441V448"/>
<text class="m" transform="matrix(0 -1 1 0 759 435)">Bridge</text></g>
<g id="fld-ctrl"><rect class="k" x="739.700" y="614.300" width="102" height="64"/><path class="t1" d="M758.300 614.300V678.300M792.300 614.300V678.300M825.700 614.300V678.300"/>
<path class="t0" d="M787.700 634V656H765M765 641L776 654H787.700"/><path class="a" d="M787.700 632.500l-2.300 6.500h4.600zM763 656l6.500-2.300v4.600z"/>
<text class="l" transform="matrix(0 -1 1 0 747.300 671.700)">Motor 1 field</text><text class="l" transform="matrix(0 -1 1 0 755.700 671.700)">current controller</text><text class="l" transform="matrix(0 -1 1 0 802.700 673.300)">M1KpFex</text><text class="l" transform="matrix(0 -1 1 0 819.300 673.300)">M1TiFex</text><text class="l" transform="matrix(0 -1 1 0 835.700 673.300)">M1PosLimCtrl</text></g>
<g id="p4402"><rect class="b" x="794.300" y="687.300" width="10.400" height="30"/><text class="v" transform="matrix(0 -1 1 0 802.700 702.300)">44.02</text></g>
<g id="p4403"><rect class="b" x="812.300" y="687.300" width="10.400" height="30"/><text class="v" transform="matrix(0 -1 1 0 820.700 702.300)">44.03</text></g>
<g id="p4502"><rect class="b" x="829.300" y="687.300" width="10.400" height="30"/><text class="v" transform="matrix(0 -1 1 0 837.700 702.300)">45.02</text></g>
<g id="p330b"><rect class="b" x="749.300" y="681" width="10.400" height="30" rx="5"/><text class="v" transform="matrix(0 -1 1 0 757.700 696)">3.30</text></g>
<text class="l" transform="matrix(0 -1 1 0 742.300 732.700)">FldCurRefM1</text>
<g id="sel2"><rect class="n" x="707.300" y="752.300" width="37.400" height="20.400"/></g>
<g id="p1010"><rect class="b" x="709.300" y="786" width="10" height="30"/><text class="v" transform="matrix(0 -1 1 0 717.500 801)">10.10</text></g>
<g id="p2118"><rect class="b" x="723" y="786" width="10.400" height="30"/><text class="v" transform="matrix(0 -1 1 0 731.400 801)">21.18</text></g>
<g id="p4505"><rect class="b" x="735.300" y="786" width="10.400" height="30"/><text class="v" transform="matrix(0 -1 1 0 743.700 801)">45.05</text></g>
<g id="p4404"><rect class="b" x="759" y="778.700" width="10.400" height="30"/><text class="v" transform="matrix(0 -1 1 0 767.400 793.700)">44.04</text></g>
<g id="p4506"><rect class="bg" x="771.700" y="778.700" width="11" height="30"/><text class="v" transform="matrix(0 -1 1 0 780.500 793.700)">45.06</text></g>
<text class="l" transform="matrix(0 -1 1 0 718.300 858.300)">ParCharge</text><text class="l" transform="matrix(0 -1 1 0 731.700 857.700)">FldHeatSel</text><text class="l" transform="matrix(0 -1 1 0 743.300 871.700)">M1FldRefMode</text><text class="l" transform="matrix(0 -1 1 0 766.700 858.300)">M1FldHeatRef</text><text class="l" transform="matrix(0 -1 1 0 779.300 852.700)">M1FldRefExt</text>
<text class="s" transform="matrix(0 -1 1 0 706 934)">Field current control (5 ms)</text>
<g id="opt"><rect class="k" style="stroke-width:1.500" x="745.700" y="882.300" width="50" height="46"/>
<text class="l" transform="matrix(0 -1 1 0 753.300 921.700)">Opt.torque</text><text class="l" transform="matrix(0 -1 1 0 762.700 921.700)">and</text><text class="l" transform="matrix(0 -1 1 0 770.700 921.700)">field</text><text class="l" transform="matrix(0 -1 1 0 779 921.700)">reversal</text><text class="l" transform="matrix(0 -1 1 0 787.300 921.700)">(group 45)</text></g>
<g id="flux-lin"><rect class="gk" x="745" y="948.300" width="127.700" height="60"/><path class="t1" d="M763 948.300V1008.300M831.300 948.300V1008.300"/>
<path class="t0" d="M822.700 953V1001.700H777"/><path class="a" d="M822.700 951.700l-2.300 6.500h4.600zM775 1001.700l6.500-2.300v4.600z"/><path class="t0" d="M777.300 955C781 985 800 1000 822 1001"/>
<text class="l" transform="matrix(0 -1 1 0 756 1005)">Flux linearization</text><text class="l" transform="matrix(0 -1 1 0 841.700 1005)">FldCurFlux40</text><text class="l" transform="matrix(0 -1 1 0 854 1005)">FldCurFlux70</text><text class="l" transform="matrix(0 -1 1 0 868.300 1005)">FldCurFlux90</text></g>
<g id="p4412"><rect class="b" x="835" y="1013.300" width="10.400" height="30"/><text class="v" transform="matrix(0 -1 1 0 843.400 1028.300)">44.12</text></g>
<g id="p4413"><rect class="b" x="847" y="1013.300" width="10.400" height="30"/><text class="v" transform="matrix(0 -1 1 0 855.400 1028.300)">44.13</text></g>
<g id="p4414"><rect class="b" x="860.300" y="1013.300" width="10.400" height="30"/><text class="v" transform="matrix(0 -1 1 0 868.700 1028.300)">44.14</text></g>
<g id="p4427"><rect class="bg" x="776.300" y="1014.300" width="10.400" height="30"/><text class="v" transform="matrix(0 -1 1 0 784.700 1029.300)">44.27</text></g>
<text class="l" transform="matrix(0 -1 1 0 794 1043.300)">FluxCorr</text>
<g id="p328"><rect class="b" x="747.300" y="1048.300" width="10.400" height="29.400" rx="5"/><text class="v" transform="matrix(0 -1 1 0 755.700 1063)">3.28</text></g>
<text class="l" transform="matrix(0 -1 1 0 742.700 1081.700)">FluxRefSum</text>
<text class="m" transform="matrix(0 -1 1 0 717.700 1100)">is set to zero if</text><text class="m" transform="matrix(0 -1 1 0 725 1100)">FldCtrlMode (44.01) = Fix</text>
<g id="p327b"><rect class="b" x="747.300" y="1115" width="10.400" height="29.400" rx="5"/><text class="v" transform="matrix(0 -1 1 0 755.700 1129.700)">3.27</text></g>
<text class="l" transform="matrix(0 -1 1 0 766.700 1148.300)">FluxRefEMF</text>
<g id="p324b"><rect class="b" x="916" y="1112.300" width="10.400" height="30" rx="5"/><text class="v" transform="matrix(0 -1 1 0 924.400 1127.300)">3.24</text></g>
<text class="l" transform="matrix(0 -1 1 0 940 1154.300)">FluxRefFldWeak</text>
<text class="l" transform="matrix(0 -1 1 0 886.700 1213)">is set to maximum flux if</text><text class="l" transform="matrix(0 -1 1 0 896.700 1208.300)">FldCtrlMode (44.01) = Fix</text>
<g id="emf-ctrl"><rect class="k" x="744" y="1150" width="109.300" height="60"/><path class="t1" d="M767.300 1150V1210M825.700 1150V1210"/><path class="g" d="M802.700 1150V1210"/>
<path class="t0" d="M798.300 1175V1197.300H775M774 1177.300L786.700 1193.300H798.300"/><path class="a" d="M798.300 1173.300l-2.300 6.500h4.600zM773.300 1197.300l6.500-2.300v4.600z"/>
<text class="l" transform="matrix(0 -1 1 0 756 1205)">EMF controller</text><text class="l" transform="matrix(0 -1 1 0 811.700 1205)">KpEMF</text><text class="l" transform="matrix(0 -1 1 0 822.700 1205)">TiEMF</text><text class="l" transform="matrix(0 -1 1 0 834.300 1205)">EMF CtrlPosLim</text><text class="l" transform="matrix(0 -1 1 0 846.700 1205)">EMF CtrlNegLim</text></g>
<g id="p4409"><rect class="b" x="805.700" y="1213.300" width="10.200" height="30"/><text class="v" transform="matrix(0 -1 1 0 814 1228.300)">44.09</text></g>
<g id="p4410"><rect class="b" x="816.300" y="1213.300" width="10.400" height="30"/><text class="v" transform="matrix(0 -1 1 0 824.700 1228.300)">44.10</text></g>
<g id="p4407"><rect class="b" x="828.300" y="1213.300" width="10.400" height="30"/><text class="v" transform="matrix(0 -1 1 0 836.700 1228.300)">44.07</text></g>
<g id="p4408"><rect class="b" x="841.300" y="1213.300" width="10.400" height="30"/><text class="v" transform="matrix(0 -1 1 0 849.700 1228.300)">44.08</text></g>
<g id="p326"><rect class="b" x="757.700" y="1214" width="10" height="29.300" rx="5"/><text class="v" transform="matrix(0 -1 1 0 765.900 1228.700)">3.26</text></g>
<text class="l" transform="matrix(0 -1 1 0 778 1241.700)">VoltRef2</text>
<g id="vref"><rect class="gk" x="744.300" y="1246.700" width="57.400" height="47.300"/><path class="t1" d="M770.700 1246.700V1294M786.700 1246.700V1294"/>
<text class="m" style="text-anchor:start" transform="matrix(0 -1 1 0 755 1290)">V ref</text><text class="l" transform="matrix(0 -1 1 0 764.300 1290)">modification</text><text class="l" transform="matrix(0 -1 1 0 781.700 1291.700)">VoltCorr</text><text class="l" transform="matrix(0 -1 1 0 797.300 1291.700)">VoltRefSlope</text></g>
<g id="p325"><rect class="b" x="756.700" y="1297.300" width="10" height="30" rx="5"/><text class="v" transform="matrix(0 -1 1 0 764.900 1312.300)">3.25</text></g>
<text class="l" transform="matrix(0 -1 1 0 753.300 1326.700)">VoltRef1</text>
<g id="p4425"><rect class="bg" x="772.300" y="1297.300" width="11" height="30"/><text class="v" transform="matrix(0 -1 1 0 781.100 1312.300)">44.25</text></g>
<g id="p4426"><rect class="b" x="788.700" y="1297.300" width="10.300" height="30"/><text class="v" transform="matrix(0 -1 1 0 797 1312.300)">44.26</text></g>
<g id="emf-refsel"><rect class="n" x="746.700" y="1332.300" width="72" height="70"/><rect class="y" x="746.700" y="1332.300" width="19" height="70"/>
<text class="l" style="font-size:7.500px" transform="matrix(0 -1 1 0 758.300 1396.700)">EMF RefSel</text><text class="l" style="font-size:7.500px" transform="matrix(0 -1 1 0 778.300 1399)">EMF Internal</text><text class="l" style="font-size:7.500px" transform="matrix(0 -1 1 0 788.300 1399)">VoltRefExt</text><text class="l" style="font-size:7.500px" transform="matrix(0 -1 1 0 798.300 1399)">AI1, ..., AI6</text></g>
<g id="p4423"><rect class="b" x="752.300" y="1405.700" width="10.400" height="30"/><text class="v" transform="matrix(0 -1 1 0 760.700 1420.700)">44.23</text></g>
<g id="p4422"><rect class="bg" x="780.300" y="1411.700" width="10.400" height="30"/><text class="v" transform="matrix(0 -1 1 0 788.700 1426.700)">44.22</text></g>
<g id="p603"><rect class="b" x="739.700" y="1430.700" width="10" height="33.300"/><text class="v" transform="matrix(0 -1 1 0 747.900 1447.300)">6.03 B9</text></g>
<text class="l" transform="matrix(0 -1 1 0 734.300 1467.300)">CurCtrlStat1</text>
<text class="l" transform="matrix(0 -1 1 0 771 1475)">B9=1</text><text class="l" transform="matrix(0 -1 1 0 793.300 1468.300)">B9=0</text>
<g id="min"><rect class="n" x="765.300" y="1478.300" width="40.400" height="26"/><text class="m" transform="matrix(0 -1 1 0 789 1491.700)">Min</text></g>
<g id="p4421"><rect class="b" x="742.700" y="1503.300" width="10.300" height="30"/><text class="v" transform="matrix(0 -1 1 0 751 1518.300)">44.21</text></g>
<text class="l" transform="matrix(0 -1 1 0 736.700 1544)">RevVoltMargin</text>
<g id="p111b"><rect class="b" x="770" y="1538.300" width="10.300" height="30" rx="5"/><text class="v" transform="matrix(0 -1 1 0 778.300 1553.300)">1.11</text></g>
<text class="l" transform="matrix(0 -1 1 0 766 1581.700)">MainsVoltActRel</text>
<g id="p9902"><rect class="b" x="791.300" y="1538.300" width="10.300" height="30"/><text class="v" transform="matrix(0 -1 1 0 799.600 1553.300)">99.02</text></g>
<text class="l" transform="matrix(0 -1 1 0 812.700 1575)">M1NomVolt</text>
<text class="s" transform="matrix(0 -1 1 0 711.700 1583.300)">EMF and flux control (5 ms)</text>
<g id="flux-ctrl"><rect class="gk" x="910" y="1267.700" width="104.300" height="72.300"/><path class="t1" d="M929.300 1267.700V1340M982.300 1267.700V1340"/>
<path class="t0" d="M970.700 1297V1326.500H941M948.300 1326.500V1311.700C958 1311.700 968 1308 970.700 1296"/><path class="a" d="M970.700 1295l-2.300 6.500h4.600zM940 1326.500l6.500-2.300v4.600z"/>
<text class="m" transform="matrix(0 -1 1 0 924.300 1311.700)">Flux control</text><text class="l" transform="matrix(0 -1 1 0 995 1336.700)">M1BaseSpeed</text><text class="l" transform="matrix(0 -1 1 0 1009.300 1336.700)">FldWeakDyn</text></g>
<g id="p9904"><rect class="b" x="986.700" y="1345.700" width="10" height="30"/><text class="v" transform="matrix(0 -1 1 0 994.900 1360.700)">99.04</text></g>
<g id="p4415"><rect class="b" x="1000.700" y="1345.700" width="10" height="30"/><text class="v" transform="matrix(0 -1 1 0 1008.900 1360.700)">44.15</text></g>
<g id="p104b"><rect class="b" x="915" y="1410.700" width="10.400" height="30" rx="5"/><text class="v" transform="matrix(0 -1 1 0 923.400 1425.700)">1.04</text></g>
<text class="l" transform="matrix(0 -1 1 0 906.700 1439.300)">MotSpeed</text>
<text class="l" transform="matrix(0 -1 1 0 940.700 1490)">If M1SpeedFbSel (50.03) = External,</text>
<text class="l" transform="matrix(0 -1 1 0 950 1489)">then MotSpeed (1.04) can be written to.</text>
</svg>
